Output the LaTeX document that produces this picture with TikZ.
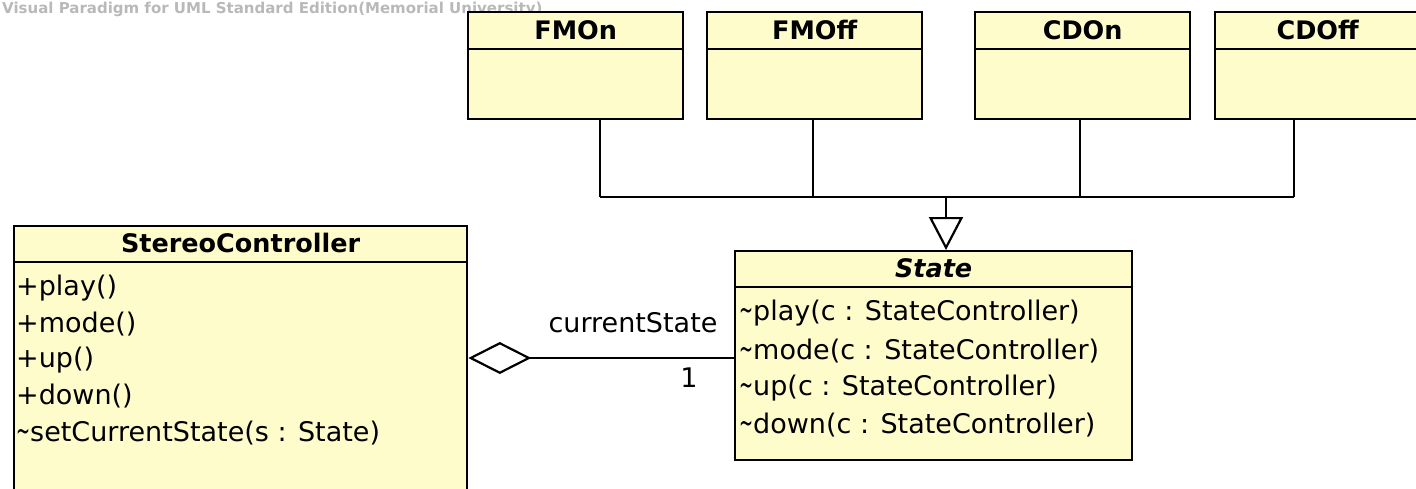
\documentclass[tikz,border=0pt]{standalone}
\usepackage{fontspec}
\usepackage{graphicx}
\setmainfont{DejaVu Sans}
\usetikzlibrary{arrows.meta}
\definecolor{clsfill}{RGB}{255,252,204}
\definecolor{wmgray}{RGB}{185,185,185}
\newcommand\tld{\scalebox{0.62}[1.15]{\char`\~}}
\begin{document}
\begin{tikzpicture}[x=1pt,y=-1pt,
  cls/.style={draw=black, fill=clsfill, line width=2.3pt, rectangle, inner sep=0pt, anchor=north west},
  sep/.style={line width=2.3pt},
  ttl/.style={font=\fontsize{25.5}{30}\selectfont\bfseries, inner sep=0pt},
  mth/.style={font=\fontsize{27}{30}\selectfont, inner sep=0pt, anchor=west},
  lbl/.style={font=\fontsize{27}{30}\selectfont, inner sep=0pt},
  conn/.style={line width=2.2pt}]
\clip (0,0) rectangle (1416,488);
\fill[white] (0,0) rectangle (1416,488);
% watermark
\node[text=wmgray, anchor=base west, inner sep=0pt, font=\fontsize{15}{15}\selectfont\bfseries] (wm) at (2,13) {Visual Paradigm for UML Standard Edition(Memorial University)};
% top classes
\node[cls, minimum width=215pt, minimum height=107pt] (fmon) at (467,11) {};
\node[cls, minimum width=215pt, minimum height=107pt] (fmoff) at (706,11) {};
\node[cls, minimum width=215pt, minimum height=107pt] (cdon) at (974,11) {};
\node[cls, minimum width=215pt, minimum height=107pt] (cdoff) at (1214,11) {};
\foreach \n in {fmon,fmoff,cdon,cdoff}{
  \draw[sep] ([yshift=-38pt]\n.north west) -- ([yshift=-38pt]\n.north east);
}
\node[ttl] (fmont) at ([yshift=-19pt]fmon.north) {FMOn};
\node[ttl] (fmofft) at ([yshift=-19pt]fmoff.north) {FMOff};
\node[ttl] (cdont) at ([yshift=-19pt]cdon.north) {CDOn};
\node[ttl] (cdofft) at ([xshift=-5pt,yshift=-19pt]cdoff.north) {CDOff};
% State
\node[cls, minimum width=397pt, minimum height=209pt] (state) at (734,250) {};
\draw[sep] ([yshift=-37pt]state.north west) -- ([yshift=-37pt]state.north east);
\node[ttl, font=\fontsize{25.5}{30}\selectfont\bfseries\itshape] (statet) at ([yshift=-18pt]state.north) {State};
\node[mth] (s1) at (739,313) {\tld play(c : StateController)};
\node[mth] (s2) at (739,351) {\tld mode(c : StateController)};
\node[mth] (s3) at (739,388) {\tld up(c : StateController)};
\node[mth] (s4) at (739,425) {\tld down(c : StateController)};
% StereoController
\node[cls, minimum width=453pt, minimum height=290pt] (sc) at (13,225) {};
\draw[sep] ([yshift=-37pt]sc.north west) -- ([yshift=-37pt]sc.north east);
\node[ttl] (sct) at ([yshift=-18pt]sc.north) {StereoController};
\node[mth] (c1) at (16,288) {+play()};
\node[mth] (c2) at (16,324) {+mode()};
\node[mth] (c3) at (16,360) {+up()};
\node[mth] (c4) at (16,396) {+down()};
\node[mth] (c5) at (16,433) {\tld setCurrentState(s : State)};
% generalization
\coordinate (b1) at (600,197);
\coordinate (b2) at (813,197);
\coordinate (b3) at (1080,197);
\coordinate (b4) at (1294,197);
\coordinate (gen) at (946,197);
\draw[conn] (fmon.south -| b1) -- (b1);
\draw[conn] (fmoff.south -| b2) -- (b2);
\draw[conn] (cdon.south -| b3) -- (b3);
\draw[conn] (cdoff.south -| b4) -- (b4);
\draw[conn] (b1) -- (b4);
\draw[conn, -{Triangle[open, length=33pt, width=34pt, line width=2.2pt]}] (gen) -- (gen |- state.north);
% aggregation
\coordinate (agg) at (600,358);
\draw[conn, {Diamond[open, length=63pt, width=32pt, line width=2.2pt]}-] (sc.east |- agg) -- (state.west |- agg);
\node[lbl] (role) at (633,323) {currentState};
\node[lbl] (mult) at (689,378) {1};
\end{tikzpicture}
\end{document}
